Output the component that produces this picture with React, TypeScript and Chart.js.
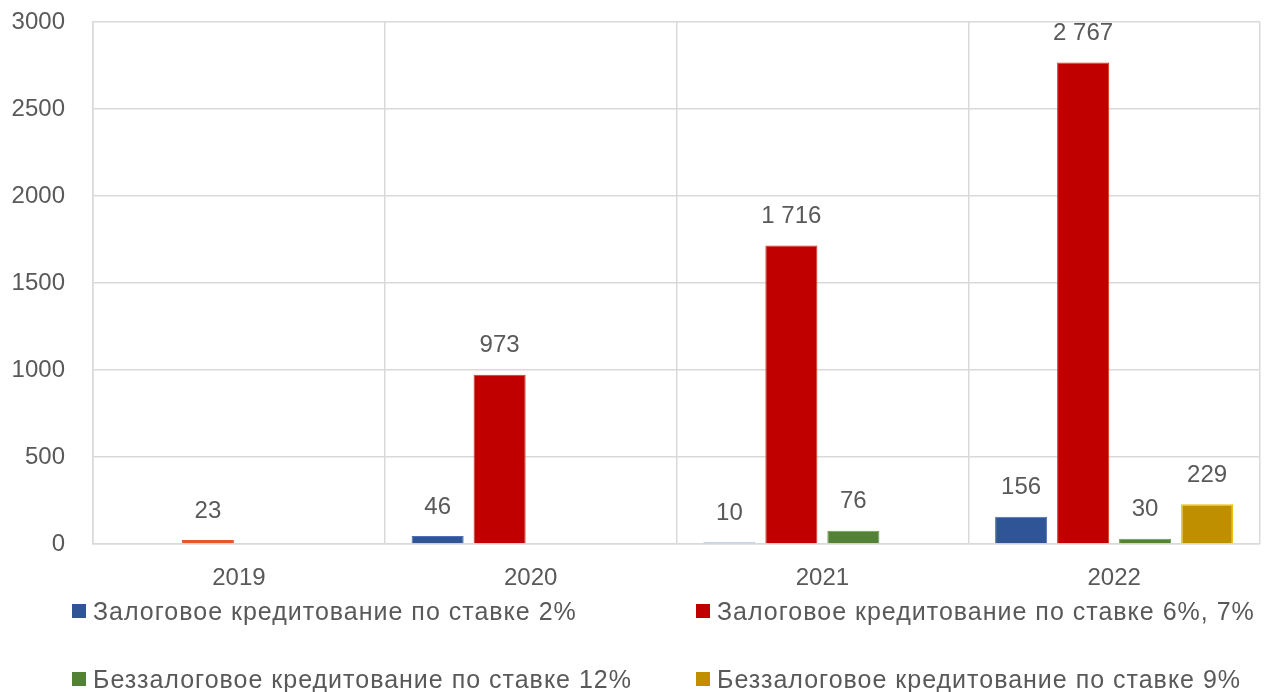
import React, { useEffect, useRef } from "react";
import { Chart, registerables } from "chart.js";

Chart.register(...registerables);

const categories = ["2019", "2020", "2021", "2022"];
const seriesNames = [
  "Залоговое кредитование по ставке 2%",
  "Залоговое кредитование по ставке 6%, 7%",
  "Беззалоговое кредитование по ставке 12%",
  "Беззалоговое кредитование по ставке 9%",
];
const blueValues = [null, 46, 10, 156];
const redValues = [23, 973, 1716, 2767];
const greenValues = [null, null, 76, 30];
const goldValues = [null, null, null, 229];
const yTicks = [0, 500, 1000, 1500, 2000, 2500, 3000];

const FONT = "'Liberation Sans', Arial, sans-serif";
const TEXT = "#595959";

const legendColors = ["#2F5597", "#C00000", "#538135", "#BF8F00"];

function fmt(v: number): string {
  return String(v).replace(/\B(?=(\d{3})+(?!\d))/g, " ");
}

const valueLabels = {
  id: "valueLabels",
  afterDatasetsDraw(chart: any) {
    const ctx = chart.ctx;
    ctx.save();
    ctx.font = `24px ${FONT}`;
    ctx.fillStyle = TEXT;
    ctx.textAlign = "center";
    ctx.textBaseline = "middle";
    chart.data.datasets.forEach((ds: any, i: number) => {
      const meta = chart.getDatasetMeta(i);
      meta.data.forEach((bar: any, j: number) => {
        const v = ds.data[j];
        if (v === null || v === undefined) return;
        ctx.fillText(fmt(v), bar.x, bar.y - 29);
      });
    });
    ctx.restore();
  },
};

export default function App() {
  const ref = useRef<HTMLCanvasElement>(null);

  useEffect(() => {
    if (!ref.current) return;
    const chart = new Chart(ref.current, {
      type: "bar",
      data: {
        labels: categories,
        datasets: [
          {
            label: seriesNames[0],
            data: blueValues,
            backgroundColor: ["#2F5597", "#2F5597", "#8FAADC", "#2F5597"],
            borderColor: ["#4A70B8", "#4A70B8", "#8FAADC", "#4A70B8"],
            borderWidth: 1,
          },
          {
            label: seriesNames[1],
            data: redValues,
            backgroundColor: ["#E4572C", "#C00000", "#C00000", "#C00000"],
            borderColor: ["#E4572C", "#D8381C", "#D8381C", "#D8381C"],
            borderWidth: 1,
          },
          {
            label: seriesNames[2],
            data: greenValues,
            backgroundColor: "#538135",
            borderColor: "#6B9A4C",
            borderWidth: 1,
          },
          {
            label: seriesNames[3],
            data: goldValues,
            backgroundColor: "#BF8F00",
            borderColor: "#F0BE10",
            borderWidth: 1.5,
          },
        ] as any,
      },
      options: {
        responsive: false,
        animation: false,
        maintainAspectRatio: false,
        layout: { padding: { left: 0, top: 22, right: 8, bottom: 0 } },
        datasets: {
          bar: { categoryPercentage: 0.85, barPercentage: 0.84 },
        } as any,
        plugins: {
          legend: { display: false },
          tooltip: { enabled: false },
        },
        scales: {
          x: {
            grid: { color: "#D9D9D9", lineWidth: 1.5, drawTicks: false, offset: true },
            border: { color: "#D9D9D9", width: 1.5 },
            ticks: { font: { family: FONT, size: 24 }, color: TEXT, padding: 20 },
            afterFit(scale: any) {
              scale.height = 148;
              scale.paddingLeft = 0;
              scale.paddingRight = 0;
            },
          },
          y: {
            min: 0,
            max: 3000,
            afterBuildTicks(scale: any) {
              scale.ticks = yTicks.map((v) => ({ value: v }));
            },
            grid: { color: "#D9D9D9", lineWidth: 1.5, drawTicks: false },
            border: { color: "#D9D9D9", width: 1.5 },
            ticks: {
              font: { family: FONT, size: 24 },
              color: TEXT,
              padding: 28,
              callback: (v: any) => String(v),
            },
            afterFit(scale: any) {
              scale.width = 93;
              scale.paddingTop = 0;
              scale.paddingBottom = 0;
            },
          },
        },
      },
      plugins: [valueLabels],
    });
    return () => chart.destroy();
  }, []);

  const legendPos = [
    { left: 72, cy: 611 },
    { left: 696, cy: 611 },
    { left: 72, cy: 679 },
    { left: 696, cy: 679 },
  ];

  return (
    <div style={{ position: "fixed", left: 0, top: 0, width: 1268, height: 692, background: "#fff", overflow: "hidden" }}>
      <canvas ref={ref} width={1268} height={692} style={{ display: "block" }} />
      {seriesNames.map((name, i) => (
        <div
          key={name}
          style={{
            position: "absolute",
            left: legendPos[i].left,
            top: legendPos[i].cy - 15,
            height: 30,
            display: "flex",
            alignItems: "center",
            fontFamily: FONT,
            fontSize: 25,
            letterSpacing: 1,
            color: TEXT,
            whiteSpace: "nowrap",
          }}
        >
          <span
            style={{
              display: "inline-block",
              width: 14,
              height: 14,
              background: legendColors[i],
              marginRight: 7,
            }}
          />
          <span>{name}</span>
        </div>
      ))}
    </div>
  );
}
